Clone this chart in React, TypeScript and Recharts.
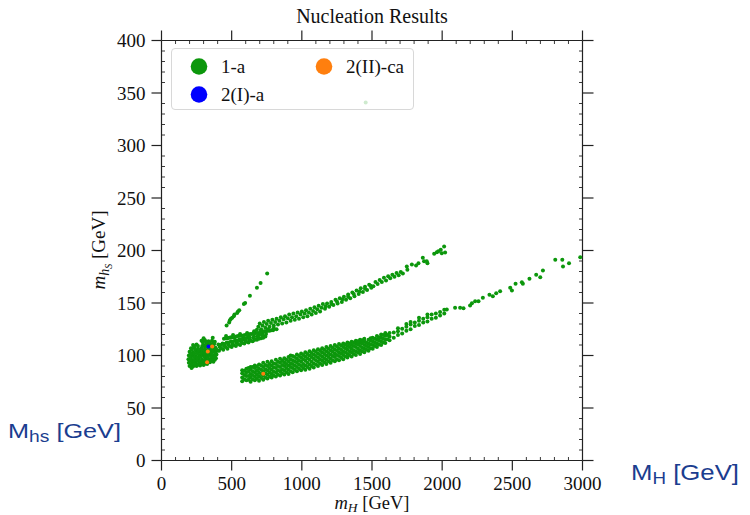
import React from "react";
import { ScatterChart, Scatter, XAxis, YAxis, Legend } from "recharts";

// ---------- axes ----------
const X_DOMAIN: [number, number] = [0, 3000];
const Y_DOMAIN: [number, number] = [0, 400];
const X_MAJOR = [0, 500, 1000, 1500, 2000, 2500, 3000];
const X_MINOR = [100, 200, 300, 400, 600, 700, 800, 900, 1100, 1200, 1300, 1400, 1600, 1700, 1800, 1900, 2100, 2200, 2300, 2400, 2600, 2700, 2800, 2900];
const Y_MAJOR = [0, 50, 100, 150, 200, 250, 300, 350, 400];
const Y_MINOR = [10, 20, 30, 40, 60, 70, 80, 90, 110, 120, 130, 140, 160, 170, 180, 190, 210, 220, 230, 240, 260, 270, 280, 290, 310, 320, 330, 340, 360, 370, 380, 390];

const TITLE = "Nucleation Results";
const SERIES_NAMES = ["1-a", "2(I)-a", "2(II)-ca"];
const SERIES_COLORS = ["#0c970c", "#0000ff", "#ff7f0e"];

// ---------- series 1-a (green) ----------
const blobPoints: number[][] = [
  [200, 90], [225, 89.5], [250, 90], [275, 90.5], [300, 91], [325, 92],
  [195, 93], [220, 93.5], [245, 93], [270, 92.5], [295, 93.5], [320, 93], [345, 93.5], [370, 94],
  [192, 96.5], [215, 96], [240, 97], [265, 96.5], [290, 96], [315, 97], [340, 96.5], [365, 97], [388, 97.5],
  [195, 100], [220, 100.5], [245, 99.5], [270, 100], [295, 100.5], [320, 100], [345, 100.5], [370, 100], [392, 101],
  [200, 103.5], [225, 103], [250, 104], [275, 103.5], [300, 103], [325, 104], [350, 103.5], [375, 104], [398, 104.5],
  [210, 107], [235, 107.5], [260, 106.5], [285, 107], [310, 107.5], [335, 107], [360, 107.5], [385, 107.5],
  [225, 110], [250, 110.5], [300, 110], [325, 111], [350, 110.5], [375, 111],
  [285, 114], [300, 116.5], [310, 114.5], [335, 113.5], [360, 114], [380, 113], [365, 117],
  [214, 88],
  [212, 91.5], [237, 91.5], [262, 91.5], [287, 92], [312, 92.5], [207, 95], [232, 95], [257, 95], [282, 94.5],
  [307, 95], [332, 95], [357, 95.5], [380, 96], [205, 98.5], [230, 98.5], [255, 98], [280, 98.5], [305, 98.5],
  [330, 98.5], [355, 98.5], [380, 99], [208, 102], [233, 102], [258, 102], [283, 102], [308, 101.5], [333, 102],
  [358, 102], [383, 102.5], [215, 105.5], [240, 105.5], [265, 105], [290, 105.5], [315, 105], [340, 105.5],
  [365, 105.5], [390, 106], [230, 108.5], [260, 109], [290, 109], [315, 109], [340, 109], [365, 109.5],
  [295, 112.5], [320, 112.5], [345, 112], [370, 112],
];

const midLowerBand: number[][] = [
  [410, 104.5], [415, 108], [405, 110.5], [440, 105.5], [445, 109], [435, 111.5],
  [470, 106.5], [475, 110], [465, 112.5], [500, 108], [505, 111], [495, 113.5],
  [530, 109], [535, 112.5], [525, 114.5], [560, 110], [565, 113.5], [555, 115.5],
  [590, 111.5], [595, 114.5], [585, 116.5], [620, 112.5], [625, 115.5], [615, 117.5],
  [650, 113.5], [655, 117], [680, 115], [685, 118], [710, 116.5], [715, 119.5], [740, 118], [745, 120.5],
  [425, 107], [420, 110], [455, 108], [450, 111], [485, 109], [480, 112.5], [515, 110], [510, 113],
  [545, 111], [540, 114], [575, 112], [570, 115], [605, 113], [600, 116], [635, 114], [630, 117],
  [665, 115], [660, 118], [695, 116], [690, 119], [725, 117], [720, 120],
];

const midUpperBand: number[][] = [
  [445, 116], [470, 116.5], [495, 117.5], [520, 117], [545, 118.5], [570, 118.5], [595, 119.5], [620, 120],
  [645, 120.5], [670, 121.5], [695, 121.5], [720, 122.5], [745, 123], [770, 123.5], [795, 124], [820, 125],
  [460, 118.5], [510, 119.5], [560, 120.5], [610, 121.5], [660, 123], [710, 124], [760, 125], [800, 126],
  [457, 116.5], [482, 117], [507, 117.5], [532, 118], [557, 119], [582, 119], [607, 120], [632, 120.5],
  [657, 121], [682, 121.5], [707, 122], [732, 123], [757, 123.5], [782, 124],
];

const thinDiagonal: number[][] = [
  [464, 128.5], [482, 131.5], [487, 133.5], [495, 135], [504, 136], [515, 137.5], [520, 139],
  [539, 140.5], [545, 142], [554, 143], [587, 149], [596, 150], [630, 157], [680, 164.5], [706, 169], [753, 178],
];

const upperBand: number[][] = [
  [680, 124.5], [690, 127.5], [700, 130.5], [710, 125], [720, 128.5], [730, 132],
  [740, 126.5], [750, 130], [760, 133], [770, 127.5], [780, 131], [790, 134],
  [800, 128.5], [810, 132], [820, 135], [830, 129.5], [840, 133], [850, 136.5],
  [860, 130.5], [870, 134.5], [880, 137.5], [890, 131.5], [900, 135.5], [910, 139],
  [920, 133], [930, 136.5], [940, 140], [950, 134], [960, 137.5], [970, 141],
  [980, 135], [990, 139], [1000, 142], [1010, 136.5], [1020, 140], [1030, 143],
  [1040, 137.5], [1050, 141], [1060, 144.5], [1070, 139], [1080, 142.5], [1090, 146],
  [1100, 140.5], [1110, 144], [1120, 147.5], [1130, 142], [1140, 145.5], [1150, 149],
  [1165, 144.5], [1180, 149.5], [1195, 146.5], [1210, 151], [1225, 148], [1240, 153],
  [1255, 149.5], [1270, 154.5], [1285, 151], [1300, 156], [1315, 153], [1330, 158],
  [1345, 154.5], [1360, 160], [1375, 156.5], [1390, 162], [1405, 158.5], [1420, 164],
  [1435, 160.5], [1450, 165.5], [1465, 162.5], [1480, 167.5], [1495, 164.5],
  [1170, 147], [1210, 149], [1250, 151.5], [1290, 153.5], [1330, 156], [1370, 158.5], [1410, 161], [1450, 163.5], [1490, 166.5],
  [1510, 166], [1525, 170], [1540, 168], [1555, 172], [1570, 170], [1585, 174], [1600, 171.5], [1615, 175.5],
  [1630, 173.5], [1645, 177], [1660, 175], [1675, 178.5], [1690, 176.5], [1705, 179.5], [1720, 178],
  [1748, 184.8], [1752, 181.6], [1784, 186.7], [1814, 185.7], [1831, 187.9], [1862, 193], [1871, 189.8],
  [1890, 189.8], [1895, 187.9], [1943, 196.9], [1962, 198.4], [1973, 199.3], [1990, 200.7], [2014, 203.8],
  [2021, 198.1], [1997, 197.4],
];

// lower band: each row is [mH, mhs values at that mH...]
const lowerBandColumns: number[][] = [
  [575, 75.5, 79, 83, 86], [605, 76.5, 80.5, 84, 87.5], [635, 75, 79, 82.5, 86.5, 89],
  [665, 76.5, 80, 84, 88, 90.5], [695, 76, 80, 83.5, 87.5, 91.5], [725, 77, 81, 85, 89, 93],
  [755, 78, 82, 86, 90, 94], [785, 79, 82.5, 86.5, 90.5, 94.5], [815, 80, 84, 88, 92, 96],
  [845, 81, 85, 89, 93, 97], [875, 82, 86, 90, 93.5, 97.5], [905, 82.5, 86.5, 90.5, 94.5, 98.5],
  [935, 84, 88, 92, 95.5, 99.5], [965, 85, 89, 93, 97, 101], [995, 86, 90, 94, 98, 102],
  [1025, 86.5, 90.5, 95, 99, 103], [1055, 87.5, 91.5, 96, 100, 104], [1085, 88.5, 92.5, 97, 101, 105],
  [1115, 90, 94, 98, 102, 106], [1145, 91, 95, 99, 103, 107], [1175, 92, 96, 100, 104, 108],
  [1205, 93, 97, 101, 105, 109], [1235, 94.5, 98.5, 102, 106, 110], [1265, 95.5, 99.5, 103, 107, 111],
  [1295, 96.5, 100.5, 104, 108, 111.5], [1325, 98, 101.5, 105.5, 109, 112.5], [1355, 99, 103, 106.5, 110, 113],
  [1385, 100.5, 104, 108, 111.5, 114], [1415, 101.5, 105, 109, 112.5, 115], [1445, 103, 106.5, 110, 113.5, 116],
  [1475, 104.5, 108, 111.5, 115], [1505, 106.5, 110, 113.5, 117], [1535, 108, 111.5, 115, 118.5],
  [1565, 110, 113.5, 117, 120], [1595, 112, 115.5, 119, 121.5],
  [1625, 114.5, 118, 121.5], [1655, 117, 122], [1685, 119.5, 123, 126], [1715, 121, 125.5],
  [1745, 123.5, 127.5, 130], [1775, 125, 129.5, 132], [1805, 128, 131.5], [1835, 129, 133, 136],
  [1865, 131.5, 135], [1895, 132.5, 136.5, 139], [1925, 135, 139], [1955, 136, 140], [1985, 138, 141.5], [2015, 140, 143.5],
  [590, 77.5, 81.5, 85.5], [620, 77, 80.5, 84.5, 88], [650, 77.5, 81.5, 85, 89], [680, 78, 82, 86, 89.5],
  [710, 78.5, 82.5, 86.5, 90.5], [740, 79, 83, 87, 91], [770, 80, 84, 88, 92], [800, 81, 84.5, 88.5, 92.5],
  [830, 82, 86, 90, 94], [860, 83, 87, 91, 95], [890, 84, 88, 92, 96], [920, 85, 89, 92.5, 96.5, 100],
  [950, 86.5, 90.5, 94.5, 98.5], [980, 87.5, 91.5, 95.5, 99.5], [1010, 88, 92, 96.5, 100.5], [1040, 89, 93, 97.5, 101.5],
  [1070, 90, 94, 98.5, 102.5], [1100, 91.5, 95.5, 99.5, 103.5], [1130, 92.5, 96.5, 100.5, 104.5], [1160, 93.5, 97.5, 101.5, 105.5],
  [1190, 94.5, 98.5, 102.5, 106.5], [1220, 95.5, 99.5, 103.5, 107.5], [1250, 96.5, 100.5, 104.5, 108.5], [1280, 98, 102, 105.5, 109.5],
  [1310, 99, 103, 107, 110.5], [1340, 100.5, 104, 108, 111.5], [1370, 101.5, 105, 109, 112.5], [1400, 103, 106.5, 110.5, 113.5],
  [1430, 104, 107.5, 111.5, 114.5], [1460, 105.5, 109, 112.5], [1490, 107, 110.5, 114, 116.5], [1520, 109, 112.5, 116],
  [1550, 110.5, 114, 117.5], [1580, 112.5, 116, 119.5], [1610, 115.5, 119.5],
];

const lowerBandTail: number[][] = [
  [2033, 143.8], [2092, 145.4], [2128, 145.4], [2152, 145.1], [2199, 147.6], [2212, 149.8], [2235, 151.7],
  [2259, 151.7], [2290, 155], [2337, 157.8], [2361, 156.5], [2385, 159.3], [2413, 161.2], [2485, 164.5],
  [2497, 161.9], [2523, 168.3], [2568, 169.8], [2575, 168.3], [2622, 173.1], [2670, 176.9], [2699, 174.6],
  [2718, 181], [2806, 191.1], [2856, 191.1], [2861, 184.8], [2904, 187.9], [2984, 193.6],
];

const hiddenUnderLegend: number[][] = [[1455, 341]];

// ---------- series 2(I)-a (blue) and 2(II)-ca (orange) ----------
const series2IPoints: number[][] = [[335, 108.6]];
const series2IIPoints: number[][] = [[361, 108.6], [330, 103.8], [325, 93.6], [725, 82.6]];

// ---------- build tables ----------
const toXY = (arr: number[][]) => arr.map(([x, y]) => ({ x, y }));
const fromColumns = (cols: number[][]) =>
  cols.flatMap(([x, ...ys]) => ys.map((y) => ({ x, y })));

const green = [
  ...toXY(hiddenUnderLegend),
  ...toXY(blobPoints),
  ...toXY(midLowerBand),
  ...toXY(midUpperBand),
  ...toXY(thinDiagonal),
  ...toXY(upperBand),
  ...fromColumns(lowerBandColumns),
  ...toXY(lowerBandTail),
];
const blue = toXY(series2IPoints);
const orange = toXY(series2IIPoints);

const X_TICKS = [...X_MAJOR, ...X_MINOR].sort((a, b) => a - b);
const Y_TICKS = [...Y_MAJOR, ...Y_MINOR].sort((a, b) => a - b);

const AX = "#222";
const SERIF = "'Liberation Serif', 'Times New Roman', serif";
const TICK_FS = 19;
const DOT_R = 2;

const dot = (color: string) => (p: any) =>
  <circle cx={p.cx} cy={p.cy} r={DOT_R} fill={color} />;

const makeTick = (side: "bottom" | "top" | "left" | "right") => (props: any) => {
  const { x, y, payload } = props;
  const v = payload.value;
  const isX = side === "bottom" || side === "top";
  const major = isX ? X_MAJOR.includes(v) : Y_MAJOR.includes(v);
  const L = 10;
  const m = 3.5;
  if (side === "bottom") {
    return major ? (
      <g>
        <line x1={x} y1={y} x2={x} y2={y + L} stroke={AX} strokeWidth={1.2} />
        <text x={x} y={y + 29} textAnchor="middle" fontFamily={SERIF} fontSize={TICK_FS} fill="#111">{v}</text>
      </g>
    ) : (
      <line x1={x} y1={y} x2={x} y2={y - m} stroke={AX} strokeWidth={0.9} />
    );
  }
  if (side === "top") {
    return major ? (
      <line x1={x} y1={y} x2={x} y2={y - L} stroke={AX} strokeWidth={1.2} />
    ) : (
      <line x1={x} y1={y} x2={x} y2={y + m} stroke={AX} strokeWidth={0.9} />
    );
  }
  if (side === "left") {
    return major ? (
      <g>
        <line x1={x} y1={y} x2={x - L} y2={y} stroke={AX} strokeWidth={1.2} />
        <text x={x - 16} y={y + 6.5} textAnchor="end" fontFamily={SERIF} fontSize={TICK_FS} fill="#111">{v}</text>
      </g>
    ) : (
      <line x1={x} y1={y} x2={x + m} y2={y} stroke={AX} strokeWidth={0.9} />
    );
  }
  return major ? (
    <line x1={x} y1={y} x2={x + 11} y2={y} stroke={AX} strokeWidth={1.2} />
  ) : (
    <line x1={x} y1={y} x2={x - m} y2={y} stroke={AX} strokeWidth={0.9} />
  );
};

const legendLayout = [
  { name: SERIES_NAMES[0], color: SERIES_COLORS[0], cx: 27, cy: 17.5 },
  { name: SERIES_NAMES[1], color: SERIES_COLORS[1], cx: 27, cy: 45.5 },
  { name: SERIES_NAMES[2], color: SERIES_COLORS[2], cx: 152, cy: 17.5 },
];

const renderLegend = () => (
  <svg width={241} height={60} style={{ display: "block" }}>
    {legendLayout.map((it) => (
      <g key={it.name}>
        <circle cx={it.cx} cy={it.cy} r={8.3} fill={it.color} />
        <text x={it.cx + 22} y={it.cy + 6} fontFamily={SERIF} fontSize={TICK_FS} fill="#111">{it.name}</text>
      </g>
    ))}
  </svg>
);

const ANN = "#1b3d8f";
const SANS = "'Liberation Sans', Arial, sans-serif";

export default function App() {
  return (
    <div style={{ position: "absolute", left: 0, top: 0, width: 750, height: 515, background: "#fff" }}>
      <ScatterChart width={750} height={515} margin={{ top: 30.5, right: 157.5, bottom: 24.5, left: 0 }}>
        <XAxis xAxisId="b" orientation="bottom" type="number" dataKey="x" domain={X_DOMAIN} allowDataOverflow
          ticks={X_TICKS} interval={0} tickSize={0} tickMargin={0} tickLine={false} tick={makeTick("bottom")}
          axisLine={{ stroke: AX, strokeWidth: 1.2 }} height={30} />
        <XAxis xAxisId="t" orientation="top" type="number" dataKey="x" domain={X_DOMAIN} allowDataOverflow
          ticks={X_TICKS} interval={0} tickSize={0} tickMargin={0} tickLine={false} tick={makeTick("top")}
          axisLine={{ stroke: AX, strokeWidth: 1.2 }} height={10} />
        <YAxis yAxisId="l" orientation="left" type="number" dataKey="y" domain={Y_DOMAIN} allowDataOverflow
          ticks={Y_TICKS} interval={0} tickSize={0} tickMargin={0} tickLine={false} tick={makeTick("left")}
          axisLine={{ stroke: AX, strokeWidth: 1.2 }} width={161.5} />
        <YAxis yAxisId="r" orientation="right" type="number" dataKey="y" domain={Y_DOMAIN} allowDataOverflow
          ticks={Y_TICKS} interval={0} tickSize={0} tickMargin={0} tickLine={false} tick={makeTick("right")}
          axisLine={{ stroke: AX, strokeWidth: 1.2 }} width={10} />
        <Scatter name={SERIES_NAMES[0]} data={green} xAxisId="b" yAxisId="l" fill={SERIES_COLORS[0]} shape={dot(SERIES_COLORS[0])} isAnimationActive={false} />
        <Scatter name={SERIES_NAMES[1]} data={blue} xAxisId="b" yAxisId="l" fill={SERIES_COLORS[1]} shape={dot(SERIES_COLORS[1])} isAnimationActive={false} />
        <Scatter name={SERIES_NAMES[2]} data={orange} xAxisId="b" yAxisId="l" fill={SERIES_COLORS[2]} shape={dot(SERIES_COLORS[2])} isAnimationActive={false} />
        <Legend layout="horizontal" verticalAlign="middle" align="center" content={renderLegend}
          wrapperStyle={{ left: 171, top: 48, width: 243, height: 62, background: "rgba(255,255,255,0.8)", border: "1px solid #d8d8d8", borderRadius: 4, boxSizing: "border-box" }} />
      </ScatterChart>
      <svg width={750} height={515} style={{ position: "absolute", left: 0, top: 0, pointerEvents: "none" }}>
        <text x={372} y={23} textAnchor="middle" fontFamily={SERIF} fontSize={20} fill="#111">{TITLE}</text>
        <text x={372} y={509} textAnchor="middle" fontFamily={SERIF} fontSize={18.5} fill="#111">
          <tspan fontStyle="italic">m</tspan>
          <tspan fontStyle="italic" fontSize={13.5} dy={3}>H</tspan>
          <tspan dy={-3}> [GeV]</tspan>
        </text>
        <text transform="translate(105,250) rotate(-90)" textAnchor="middle" fontFamily={SERIF} fontSize={19} fill="#111">
          <tspan fontStyle="italic">m</tspan>
          <tspan fontStyle="italic" fontSize={14} dy={4}>h</tspan>
          <tspan fontStyle="italic" fontSize={10} dy={2.5}>S</tspan>
          <tspan dy={-6.5}> [GeV]</tspan>
        </text>
        <text x={8} y={438} fontFamily={SANS} fontSize={21} fill={ANN} textLength={113} lengthAdjust="spacingAndGlyphs">
          <tspan>M</tspan>
          <tspan fontSize={16} dy={4}>hs</tspan>
          <tspan dy={-4}> [GeV]</tspan>
        </text>
        <text x={631} y={480} fontFamily={SANS} fontSize={22} fill={ANN} textLength={108} lengthAdjust="spacingAndGlyphs">
          <tspan>M</tspan>
          <tspan fontSize={16} dy={4}>H</tspan>
          <tspan dy={-4}> [GeV]</tspan>
        </text>
      </svg>
    </div>
  );
}
